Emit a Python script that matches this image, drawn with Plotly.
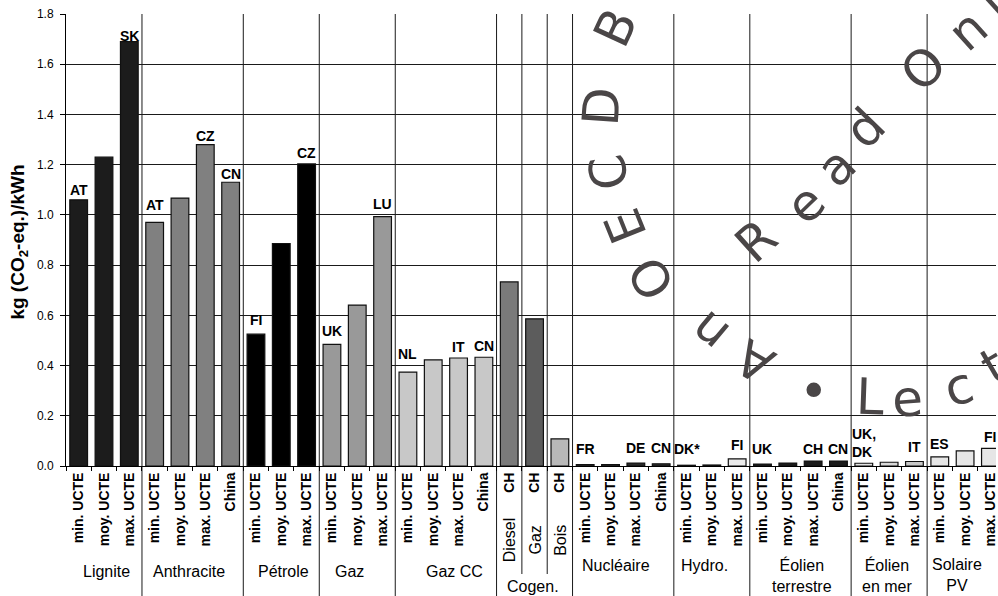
import plotly.graph_objects as go

# ---------------- data ----------------
groups = ["Lignite", "Anthracite", "Pétrole", "Gaz", "Gaz CC", "Cogen.", "Nucléaire",
          "Hydro.", "Éolien<br>terrestre", "Éolien<br>en mer", "Solaire<br>PV"]
group_sizes = [3, 4, 3, 3, 4, 3, 4, 3, 4, 3, 3]

tick_labels = ["min. UCTE", "moy. UCTE", "max. UCTE",
               "min. UCTE", "moy. UCTE", "max. UCTE", "China",
               "min. UCTE", "moy. UCTE", "max. UCTE",
               "min. UCTE", "moy. UCTE", "max. UCTE",
               "min. UCTE", "moy. UCTE", "max. UCTE", "China",
               "CH", "CH", "CH",
               "min. UCTE", "moy. UCTE", "max. UCTE", "China",
               "min. UCTE", "moy. UCTE", "max. UCTE",
               "min. UCTE", "moy. UCTE", "max. UCTE", "China",
               "min. UCTE", "moy. UCTE", "max. UCTE",
               "min. UCTE", "moy. UCTE", "max. UCTE"]
cogen_labels = ["Diesel", "Gaz", "Bois"]

values = [1.06, 1.23, 1.69,
          0.97, 1.067, 1.28, 1.13,
          0.525, 0.886, 1.203,
          0.484, 0.641, 0.993,
          0.374, 0.423, 0.430, 0.433,
          0.733, 0.586, 0.108,
          0.006, 0.006, 0.012, 0.009,
          0.003, 0.004, 0.028,
          0.008, 0.012, 0.020, 0.020,
          0.011, 0.015, 0.018,
          0.036, 0.060, 0.070]

country_labels = ["AT", "", "SK",
                  "AT", "", "CZ", "CN",
                  "FI", "", "CZ",
                  "UK", "", "LU",
                  "NL", "", "IT", "CN",
                  "", "", "",
                  "FR", "", "DE", "CN",
                  "DK*", "", "FI",
                  "UK", "", "CH", "CN",
                  "UK,<br>DK", "", "IT",
                  "ES", "", "FI"]

# ---------------- styles ----------------
bar_colors = ["#1c1c1c"] * 3 + ["#808080"] * 4 + ["#000000"] * 3 + ["#999999"] * 3 + \
             ["#c8c8c8"] * 4 + ["#7a7a7a", "#5c5c5c", "#b8b8b8"] + ["#2a2a2a"] * 4 + \
             ["#2a2a2a", "#2a2a2a", "#ebebeb"] + ["#1c1c1c"] * 4 + \
             ["#e2e2e2", "#d8d8d8", "#c8c8c8"] + ["#e6e6e6"] * 3
label_shift = [10, 0, 6, 17, 0, 9, 8, 14, 0, 11, 13, 0, 12.6, 17.7, 0, 10.7, 11.3,
               0, 0, 0, 15.7, 0, 15.3, 16, 16, 0, 14.4, 15, 0, 12, 12, 20.5, 0, 14.7,
               13, 0, 11.7]
group_xshift = [3, -4, 2, -8, 9, -2, -7, -7, 2, -2, -8]
group_ypix = [571, 571, 571, 571, 571, 586.5, 565, 565, 575, 575, 575]

FIG_W, FIG_H = 998, 596
ML, MT, MB = 66, 14, 130
PLOT_W = FIG_W - ML
PLOT_H = FIG_H - MT - MB
BOTTOM = MT + PLOT_H


def px(p):
    return (p - ML) / PLOT_W


def py(p):
    return (BOTTOM - p) / PLOT_H


xs = list(range(len(values)))

fig = go.Figure(go.Bar(
    x=xs, y=values, width=0.7,
    marker=dict(color=bar_colors, line=dict(color="#111111", width=1.2)),
    hoverinfo="skip"))

annotations = []
# country labels
for i, (lab, v) in enumerate(zip(country_labels, values)):
    if lab:
        annotations.append(dict(x=i, y=v, xref="x", yref="y", text="<b>%s</b>" % lab,
                                showarrow=False, xanchor="center", yanchor="middle",
                                yshift=label_shift[i], align="left",
                                font=dict(size=14, color="black")))

# group labels and separators
shapes = []
start = 0
bounds = []
for g, n in enumerate(group_sizes):
    centre = start + (n - 1) / 2
    annotations.append(dict(x=centre, y=py(group_ypix[g]), xref="x", yref="paper",
                            text=groups[g], showarrow=False, xshift=group_xshift[g],
                            xanchor="center", yanchor="middle",
                            font=dict(size=16, color="black")))
    start += n
    bounds.append(start)

for b in bounds[:-1]:
    shapes.append(dict(type="line", xref="x", yref="paper", x0=b - 0.5, x1=b - 0.5,
                       y0=py(FIG_H), y1=1, line=dict(color="#1a1a1a", width=1), layer="below"))

cogen_start = sum(group_sizes[:5])
for k in range(1, 3):
    b = cogen_start + k
    shapes.append(dict(type="line", xref="x", yref="paper", x0=b - 0.5, x1=b - 0.5,
                       y0=py(574), y1=1, line=dict(color="#1a1a1a", width=1), layer="below"))
for k, lab in enumerate(cogen_labels):
    annotations.append(dict(x=cogen_start + k, y=py(540), xref="x", yref="paper", text=lab,
                            textangle=-90, showarrow=False, xanchor="center", yanchor="middle",
                            font=dict(size=16, color="black")))

# y-axis title
annotations.append(dict(x=px(19), y=py(242.5), xref="paper", yref="paper",
                        text="<b>kg (CO<sub>2</sub>-eq.)/kWh</b>", textangle=-90,
                        showarrow=False, xanchor="center", yanchor="middle",
                        font=dict(size=19, color="black")))

# watermark
wm = [("A", 757, 361, -150), ("n", 711, 332, -140), ("O", 653, 278, -122),
      ("E", 627, 226, -112), ("C", 610, 172, -100), ("D", 603, 106, -86),
      ("B", 617, 28, -65),
      ("R", 758, 241, -42), ("e", 807, 204, -44), ("a", 838, 167, -45),
      ("d", 867, 128, -46), ("O", 925, 69, -44), ("n", 970, 30, -42), ("l", 996, 6, -42),
      ("•", 816, 391, 0), ("L", 872, 397, 2), ("e", 909, 399, -4), ("c", 961, 387, -16),
      ("t", 996, 366, -30)]
for ch, x, y, a in wm:
    annotations.append(dict(x=px(x), y=py(y), xref="paper", yref="paper", text=ch,
                            textangle=a, showarrow=False, xanchor="center", yanchor="middle",
                            font=dict(size=50, color="#4a4647", family="DejaVu Sans")))

fig.update_layout(
    width=FIG_W, height=FIG_H,
    margin=dict(l=ML, r=0, t=MT, b=MB),
    plot_bgcolor="white", paper_bgcolor="white", showlegend=False,
    font=dict(family="Liberation Sans, Arial, sans-serif", color="black"),
    annotations=annotations, shapes=shapes)

fig.update_xaxes(range=[-0.5, 36.22], tickmode="array", tickvals=xs, ticktext=tick_labels,
                 tickangle=-90, tickfont=dict(size=14, weight="bold"), ticks="",
                 ticklabeloverflow="allow",
                 showgrid=False, showline=True, linecolor="black", linewidth=1, zeroline=False,
                 minor=dict(tick0=-0.5, dtick=1, ticks="outside", ticklen=4,
                            tickcolor="black", showgrid=False))
fig.update_yaxes(range=[0, 1.8], dtick=0.2, tickformat=".1f", showgrid=True,
                 gridcolor="#1a1a1a", gridwidth=1, showline=True, linecolor="black",
                 ticks="outside", ticklen=5, tickcolor="black", tickfont=dict(size=12),
                 ticklabelstandoff=4, zeroline=False)

fig.write_html("out.html", config={"displayModeBar": False},
               post_script="document.body.style.margin='0';")
